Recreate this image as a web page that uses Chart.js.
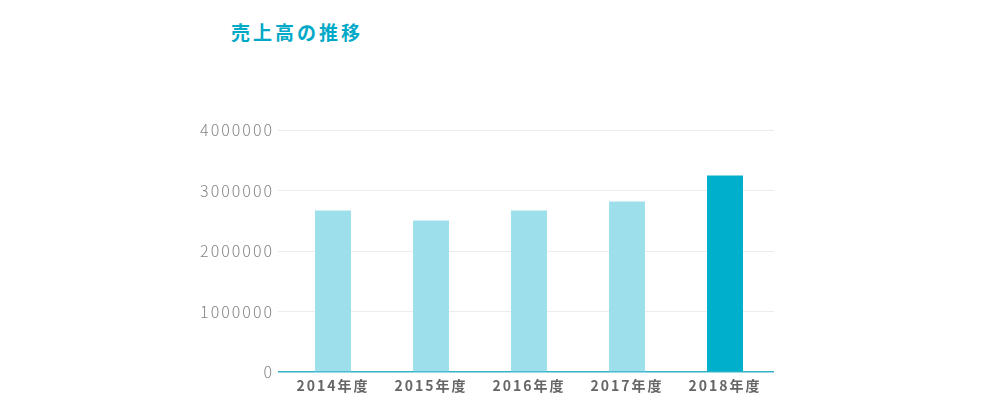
<!DOCTYPE html>
<html lang="ja">
<head>
<meta charset="utf-8">
<script src="https://cdn.jsdelivr.net/npm/chart.js@4"></script>
<style>
  html, body { margin: 0; padding: 0; background: #fff; }
  #wrap { position: relative; width: 1000px; height: 420px; }
  #title {
    position: absolute; left: 231px; top: 19px; margin: 0;
    font-family: "Noto Sans CJK JP", "Noto Sans", sans-serif;
    font-weight: bold; font-size: 19px; letter-spacing: 3px;
    color: #00a9c7; line-height: 26px;
  }
  canvas { position: absolute; left: 0; top: 0; }
</style>
</head>
<body>
<div id="wrap">
  <h2 id="title">売上高の推移</h2>
  <canvas id="myChart" width="1000" height="420"></canvas>
</div>
<script>
/* ===== DATA ===== */
const years = ['2014年度', '2015年度', '2016年度', '2017年度', '2018年度'];
const sales = [2670000, 2505000, 2670000, 2820000, 3250000];
const barColors = ['#9de0eb', '#9de0eb', '#9de0eb', '#9de0eb', '#00afcb'];
const yTicks = [0, 1000000, 2000000, 3000000, 4000000];

// letter spacing for canvas text
const spacing = {
    id: 'spacing',
    beforeDraw(chart) {
        chart.ctx.letterSpacing = '2px';
    }
};

/* ===== Chart JS ===== */
var ctx = document.getElementById('myChart').getContext('2d');

var salesChart = new Chart(ctx, {
    type: 'bar',
    data: {
        labels: years,
        datasets: [{
            label: '売上高',
            backgroundColor: barColors,
            borderWidth: 0,
            data: sales,
            barPercentage: 0.367,
            categoryPercentage: 1,
        }],
    },
    options: {
        responsive: false,
        animation: false,
        layout: {
            padding: { left: 182, right: 226, top: 130, bottom: 20 }
        },
        scales: {
            x: {
                grid: { display: false },
                border: { display: false },
                ticks: {
                    color: '#666',
                    padding: -3,
                    font: { family: '"Noto Sans CJK JP", "Noto Sans", sans-serif', size: 14, weight: 'bold' },
                },
                afterFit: (scale) => { scale.height = 28; },
            },
            y: {
                min: yTicks[0],
                max: yTicks[yTicks.length - 1],
                afterBuildTicks: (scale) => {
                    scale.ticks = yTicks.map(v => ({ value: v }));
                },
                border: { display: false },
                grid: {
                    color: (c) => c.tick && c.tick.value === 0 ? '#35b3c9' : '#ececec',
                    lineWidth: (c) => c.tick && c.tick.value === 0 ? 1.5 : 1,
                    drawTicks: true,
                    tickLength: 6,
                },
                ticks: {
                    color: '#858585',
                    padding: 4,
                    font: { family: '"Noto Sans CJK JP", "Noto Sans", sans-serif', size: 16, weight: '300' },
                    callback: (v) => String(v),
                },
                afterFit: (scale) => { scale.width = 102; },
            }
        },
        plugins: {
            legend: { display: false },
            tooltip: { enabled: false },
        }
    },
    plugins: [spacing]
});
</script>
</body>
</html>
